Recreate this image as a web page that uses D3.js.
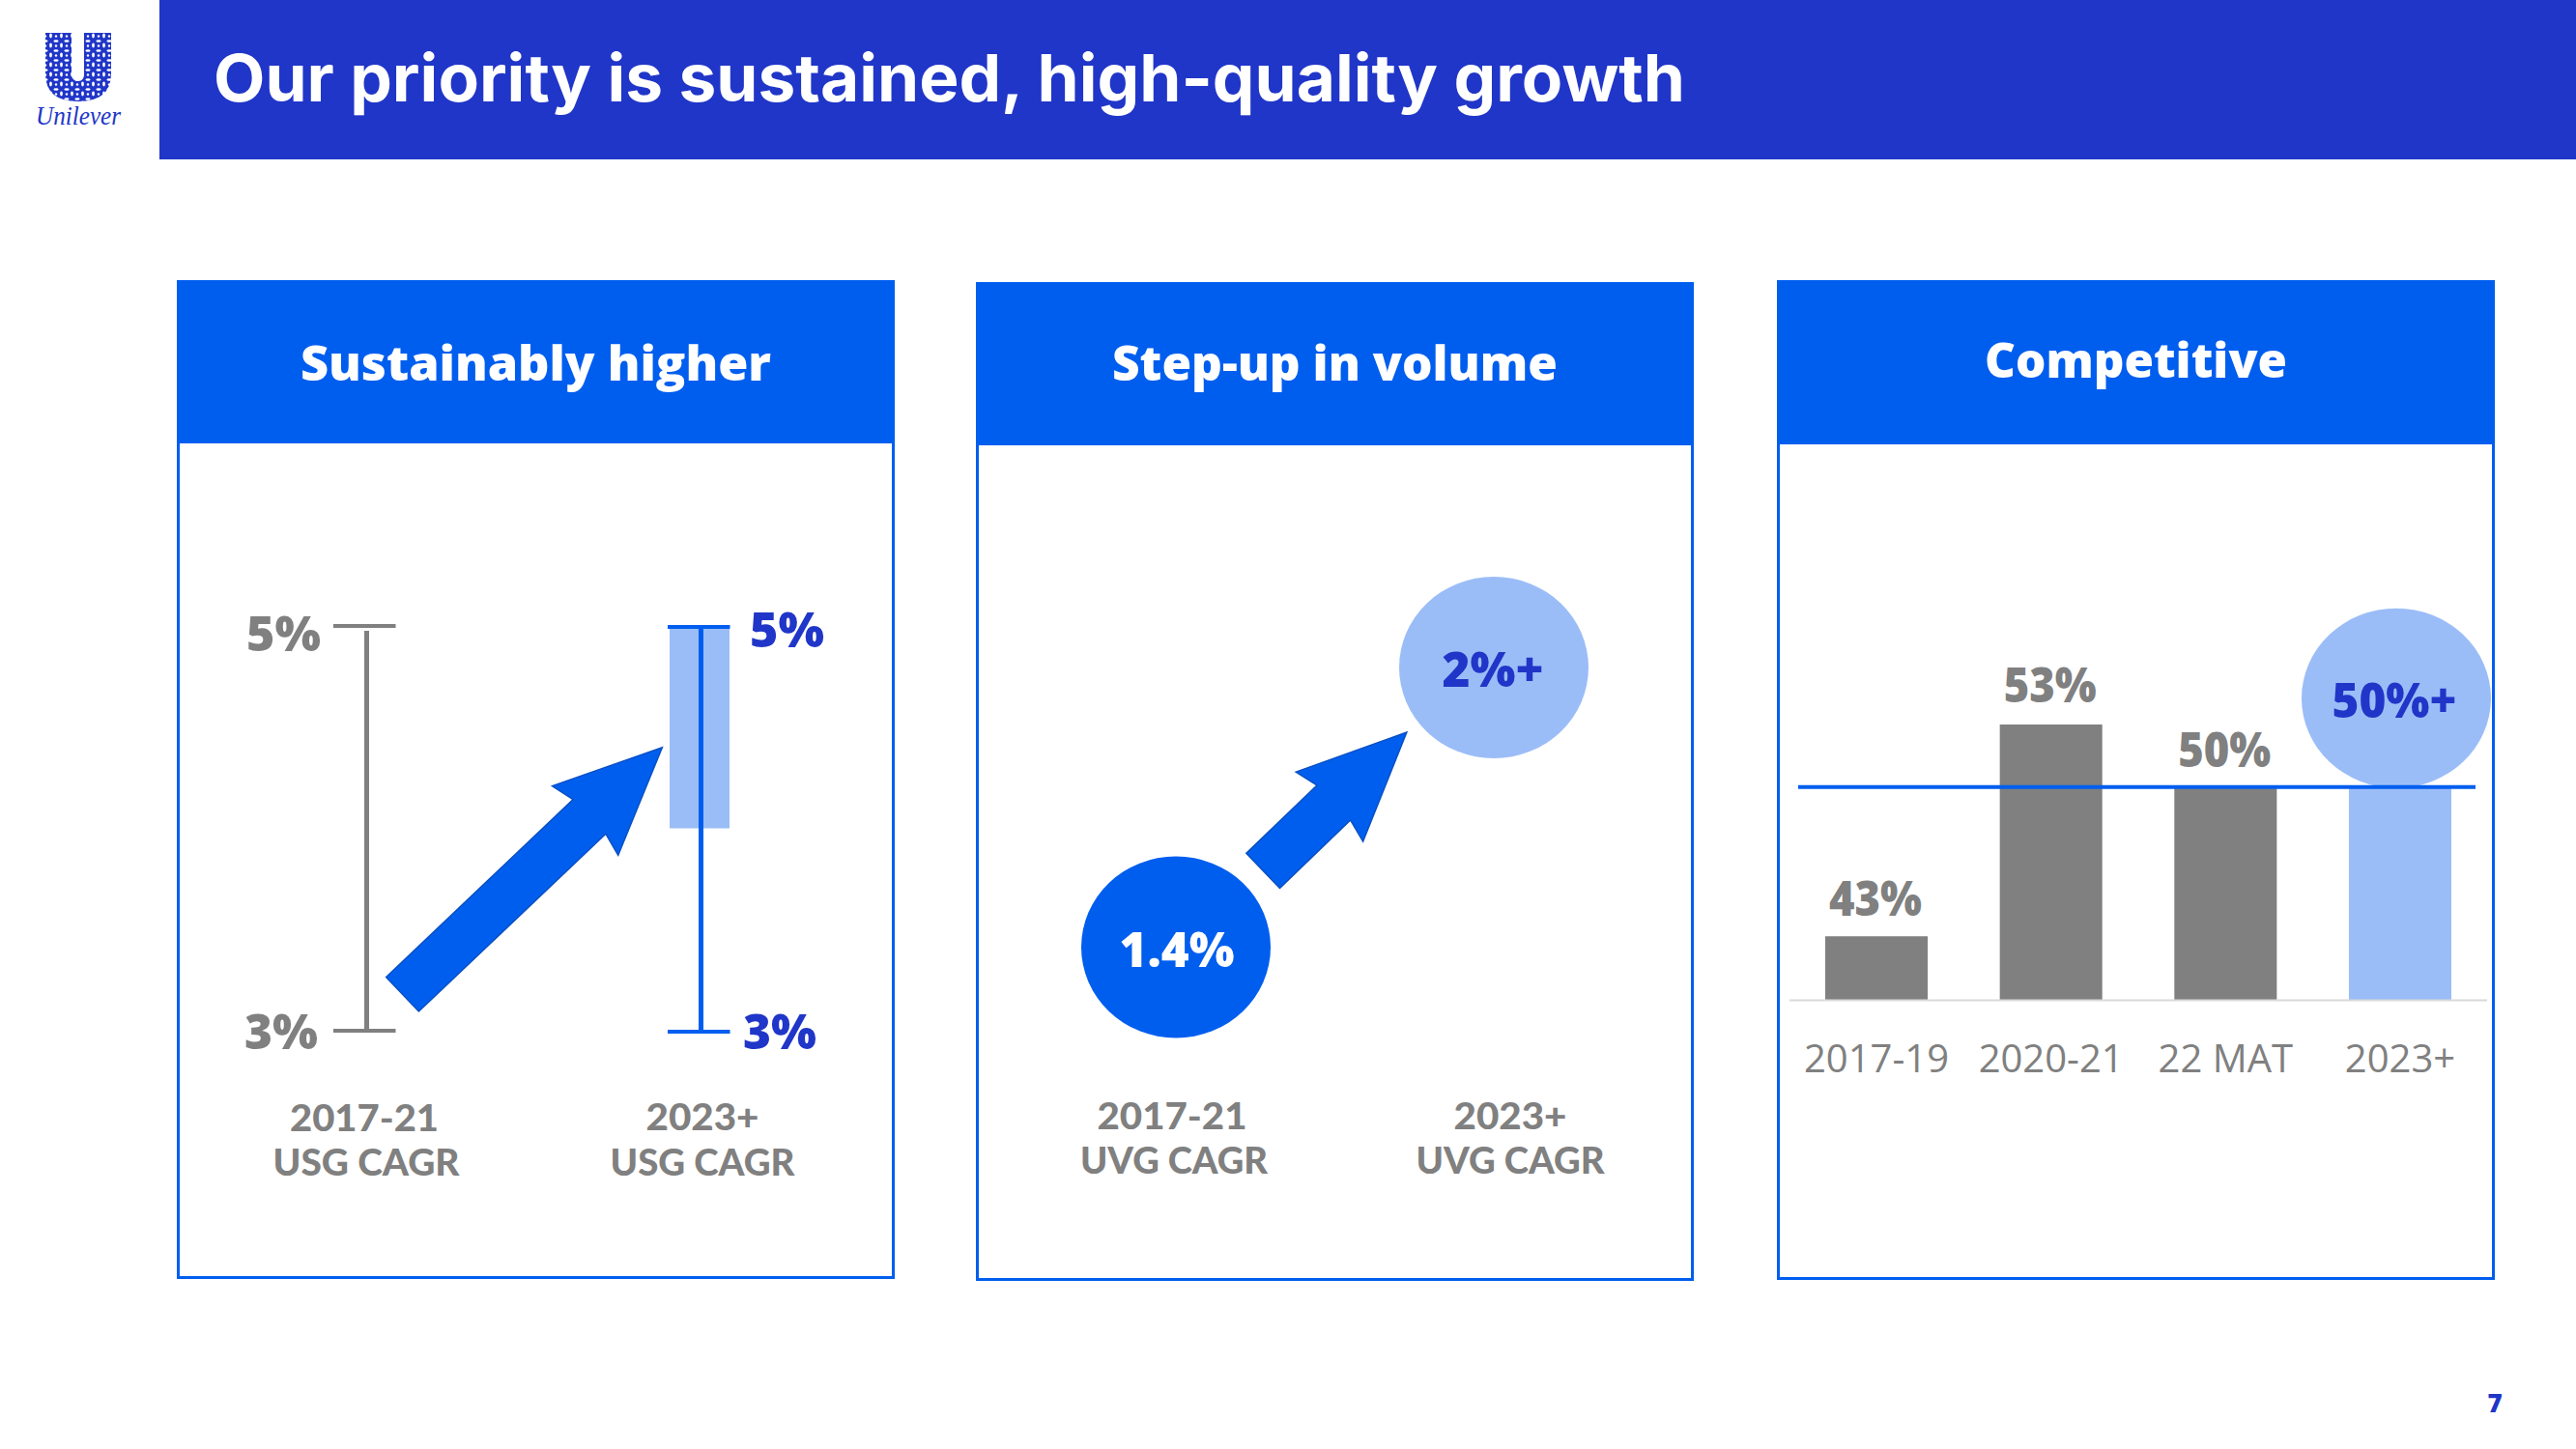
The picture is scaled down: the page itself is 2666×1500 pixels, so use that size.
<!DOCTYPE html>
<html><head><meta charset="utf-8">
<script src="https://cdn.jsdelivr.net/npm/d3@7/dist/d3.min.js"></script>
<style>html,body{margin:0;padding:0;background:#fff}svg{display:block}text{font-family:"Open Sans",sans-serif}</style>
</head><body><div id="chart"></div>
<script>
// ---- data ----
const titleText = "Our priority is sustained, high-quality growth";
const panelTitles = ["Sustainably higher","Step-up in volume","Competitive"];
const rangeCategories = ["2017-21","2023+"];
const usgLow = [3,3];
const usgHigh = [5,5];
const usgBandLow = 4;
const usgBandHigh = 5;
const usgLabels = ["USG CAGR","USG CAGR"];
const uvgValues = [1.4,2];
const uvgValueLabels = ["1.4%","2%+"];
const uvgLabels = ["UVG CAGR","UVG CAGR"];
const barCategories = ["2017-19","2020-21","22 MAT","2023+"];
const barValues = [43,53,50,50];
const barLabels = ["43%","53%","50%","50%+"];
const targetLine = 50;
const pageNumber = "7";

// ---- palette ----
const navy="#2036c8", blue="#005eef", light="#9bbdf7", gray="#808080";

const svg=d3.select("#chart").append("svg").attr("width",2666).attr("height",1500);
svg.append("rect").attr("width",2666).attr("height",1500).attr("fill","#fff");

function label(x,y,str,o={}){
  const t=svg.append("text").attr("x",x).attr("y",y).text(str)
    .attr("text-anchor",o.anchor||"middle")
    .attr("font-size",o.size||40).attr("font-weight",o.weight||800)
    .attr("fill",o.fill||gray);
  if(o.font) t.style("font-family",o.font);
  if(o.width) t.attr("textLength",o.width).attr("lengthAdjust","spacingAndGlyphs");
  return t;
}
function arrow(tail,tip,w,headW,headL){
  const dx=tip[0]-tail[0],dy=tip[1]-tail[1],L=Math.hypot(dx,dy),u=[dx/L,dy/L],n=[-u[1],u[0]];
  const at=(a,b)=>[tail[0]+u[0]*a+n[0]*b,tail[1]+u[1]*a+n[1]*b];
  const pts=[at(0,-w/2),at(L-headL,-w/2),at(L-headL-6,-headW/2),at(L,0),at(L-headL-6,headW/2),at(L-headL,w/2),at(0,w/2)];
  svg.append("path").attr("d",d3.line()(pts)+"Z").attr("fill",blue).attr("stroke","#0a50c4").attr("stroke-width",1.5);
}
const capOpts=w=>({size:38,weight:900,font:"Lato",width:w});

// ---- banner + logo ----
svg.append("rect").attr("x",165).attr("y",0).attr("width",2501).attr("height",165).attr("fill",navy);
label(221,105,titleText,{anchor:"start",size:68,weight:700,fill:"#fff",width:1523,font:"Inter"});
const defs=svg.append("defs");
const pat=defs.append("pattern").attr("id","leaf").attr("patternUnits","userSpaceOnUse").attr("width",11).attr("height",10);
pat.append("rect").attr("width",11).attr("height",10).attr("fill",navy);
pat.append("ellipse").attr("cx",3).attr("cy",2.5).attr("rx",2.6).attr("ry",1.3).attr("fill","#fff");
pat.append("ellipse").attr("cx",8.5).attr("cy",7).attr("rx",1.4).attr("ry",2.4).attr("fill","#fff");
pat.append("circle").attr("cx",3).attr("cy",7.5).attr("r",1.2).attr("fill","#fff");
svg.append("path").attr("d","M47,34H74V76Q74,84 81,84Q87,84 87,76V34H115V76Q115,105 81,105Q47,105 47,76Z").attr("fill","url(#leaf)");
label(81,129,"Unilever",{size:27,weight:400,fill:navy,width:88,font:"'Liberation Serif'"}).attr("font-style","italic");

// ---- panels ----
const panels=[{x:184.5,y:291.5,w:740,h:1031,hb:459},{x:1011.5,y:293.5,w:740,h:1031,hb:461},{x:1840.5,y:291.5,w:740,h:1032,hb:460}];
const titleBase=[394,394,391], titleWidth=[487,461,313];
panels.forEach((p,i)=>{
  svg.append("rect").attr("x",p.x).attr("y",p.y).attr("width",p.w).attr("height",p.h).attr("fill","#fff").attr("stroke",blue).attr("stroke-width",3);
  svg.append("rect").attr("x",p.x-1.5).attr("y",p.y-1.5).attr("width",p.w+3).attr("height",p.hb-p.y+1.5).attr("fill",blue);
  label(p.x+p.w/2,titleBase[i],panelTitles[i],{size:50,fill:"#fff",width:titleWidth[i]});
});

// ---- panel 1: ranges ----
const x1=d3.scaleLinear().domain([0,1]).range([379.5,725.5]);
const y1=d3.scaleLinear().domain([3,5]).range([1067,648]);
svg.append("rect").attr("x",x1(1)-32.5).attr("width",62).attr("y",y1(usgBandHigh)).attr("height",y1(usgBandLow)-y1(usgBandHigh)).attr("fill",light);
rangeCategories.forEach((c,i)=>{
  const col=i?blue:gray, cx=x1(i);
  svg.append("line").attr("x1",cx).attr("x2",cx).attr("y1",y1(usgHigh[i])+(i?0:5)).attr("y2",y1(usgLow[i])).attr("stroke",col).attr("stroke-width",5);
  [usgHigh[i],usgLow[i]].forEach(v=>svg.append("line").attr("x1",cx-34.5).attr("x2",cx+30).attr("y1",y1(v)+(i?1:0)).attr("y2",y1(v)+(i?1:0)).attr("stroke",col).attr("stroke-width",4));
});
arrow([x1(0.107),y1(3.18)],[x1(0.884),y1(4.40)],49,99,104);
label(293.5,674,usgHigh[0]+"%",{size:49,width:77});
label(291,1086,usgLow[0]+"%",{size:49,width:76});
label(814.5,670,usgHigh[1]+"%",{size:49,width:77,fill:navy});
label(807,1086,usgLow[1]+"%",{size:49,width:76,fill:navy});
label(377,1171,rangeCategories[0],capOpts(154));
label(379,1217,usgLabels[0],capOpts(193));
label(727,1170,rangeCategories[1],capOpts(117));
label(727,1217,usgLabels[1],capOpts(191));

// ---- panel 2: bubbles ----
const x2=d3.scaleLinear().domain([0,1]).range([1217,1546]);
const y2=d3.scaleLinear().domain([1.4,2]).range([980.5,691]);
uvgValues.forEach((v,i)=>{
  svg.append("ellipse").attr("cx",x2(i)).attr("cy",y2(v)).attr("rx",98).attr("ry",94).attr("fill",i?light:blue);
  label(x2(i)+(i?-1:1),y2(v)+20,uvgValueLabels[i],{size:49,fill:i?navy:"#fff",width:i?105:119});
});
arrow([x2(0.274),y2(1.564)],[x2(0.726),y2(1.861)],50,100,105);
label(1213,1169,rangeCategories[0],capOpts(155));
label(1215,1215,uvgLabels[0],capOpts(194));
label(1563,1169,rangeCategories[1],capOpts(117));
label(1563,1215,uvgLabels[1],capOpts(195));

// ---- panel 3: bars ----
const x3=d3.scaleBand().domain(barCategories).range([1889,2537]).paddingInner(0.413).paddingOuter(0);
const y3=d3.scaleLinear().domain([40,53]).range([1035,750]);
svg.append("ellipse").attr("cx",x3("2023+")+x3.bandwidth()/2-4).attr("cy",y3(targetLine)-93).attr("rx",98).attr("ry",93).attr("fill",light);
svg.selectAll("rect.bar").data(barValues).join("rect").attr("class","bar")
  .attr("x",(d,i)=>x3(barCategories[i])).attr("width",x3.bandwidth())
  .attr("y",d=>y3(d)).attr("height",d=>y3(40)-y3(d))
  .attr("fill",(d,i)=>i===3?light:gray);
svg.append("line").attr("x1",1852).attr("x2",2574).attr("y1",y3(40)+.5).attr("y2",y3(40)+.5).attr("stroke","#d9d9d9").attr("stroke-width",2);
svg.append("line").attr("x1",1861).attr("x2",2562).attr("y1",y3(targetLine)-1).attr("y2",y3(targetLine)-1).attr("stroke",blue).attr("stroke-width",4);
const ax=svg.append("g").attr("transform",`translate(0,${y3(40)})`).call(d3.axisBottom(x3).tickSize(0).tickPadding(47));
ax.select(".domain").remove();
ax.selectAll("text").attr("font-size",40).attr("fill",gray).style("font-family","'Open Sans'");
const barLabelY=[948,727,794,743];
barLabels.forEach((t,i)=>{
  const c=x3(barCategories[i])+x3.bandwidth()/2;
  label(i===3?2478:c-1,barLabelY[i],t,{size:49,fill:i===3?navy:gray,width:i===3?129:96});
});

label(2582,1462,pageNumber,{size:26,fill:navy});
</script></body></html>
